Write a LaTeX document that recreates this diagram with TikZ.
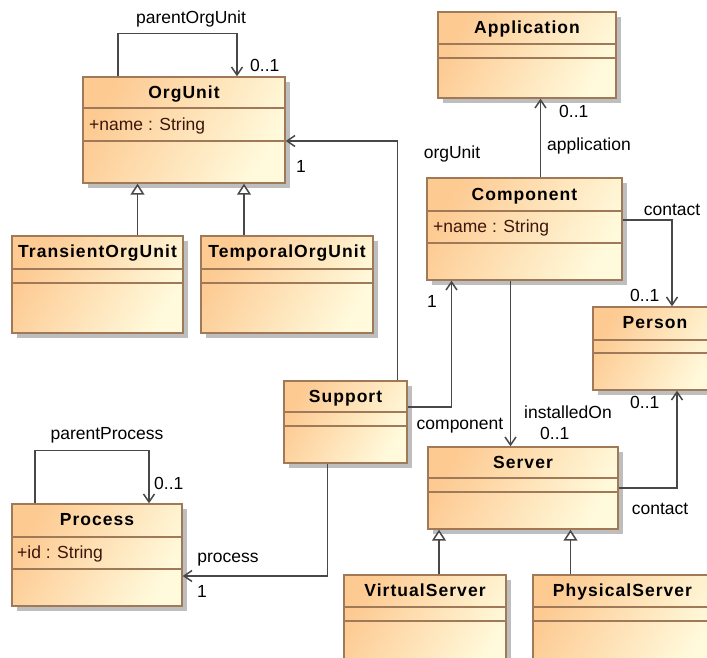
\documentclass[tikz,border=0pt]{standalone}
\usepackage{fontspec}
\setmainfont{Liberation Sans}
\newfontfamily\clsfont[LetterSpace=6]{Liberation Sans}
\usepackage{tikz}
\usetikzlibrary{arrows.meta,shadows}
\definecolor{clsA}{RGB}{253,202,146}
\definecolor{clsB}{RGB}{255,250,220}
\definecolor{clsedge}{RGB}{160,122,88}
\definecolor{shdw}{RGB}{190,190,190}
\definecolor{linegray}{RGB}{72,72,72}
\definecolor{attrtext}{RGB}{60,22,10}

\begin{document}
\begin{tikzpicture}[
    x=1pt, y=-1pt,
    every node/.style={font=\fontsize{17.5}{20}\selectfont, inner sep=0pt},
    cls/.style={draw=clsedge, line width=1.4pt, top color=clsA, bottom color=clsB,
        shading angle=60,
        drop shadow={shadow xshift=5pt, shadow yshift=-5pt, fill=shdw, opacity=1}},
    sep/.style={draw=clsedge, line width=1.4pt},
    title/.style={anchor=base, font=\clsfont\bfseries\fontsize{17.5}{20}\selectfont},
    attr/.style={anchor=base west, text=attrtext},
    lbl/.style={anchor=base},
    mult/.style={anchor=base west},
    assoc/.style={draw=linegray, line width=1.5pt, -{Straight Barb[length=8pt,width=11pt]}},
    gen/.style={draw=linegray, line width=1.5pt, -{Triangle[length=11pt,width=14pt,fill=white]}}
]
\useasboundingbox (0,0) rectangle (707,657);

% Classes
\node[cls, minimum width=178, minimum height=86] (application) at (527,55) {};
\draw[sep] (438,44) -- (616,44) (438,58) -- (616,58);
\node[title] (application-t) at (527,33) {Application};

\node[cls, minimum width=202, minimum height=106] (orgunit) at (184,130) {};
\draw[sep] (83,108) -- (285,108) (83,141) -- (285,141);
\node[title] (orgunit-t) at (184,98) {OrgUnit};
\node[attr] (orgunit-a) at (89,130) {+name : String};

\node[cls, minimum width=195, minimum height=102] (component) at (524.5,229) {};
\draw[sep] (427,211) -- (622,211) (427,243) -- (622,243);
\node[title] (component-t) at (524.5,200) {Component};
\node[attr] (component-a) at (433,232) {+name : String};

\node[cls, minimum width=171, minimum height=97] (transient) at (97.5,284.5) {};
\draw[sep] (12,269) -- (183,269) (12,283) -- (183,283);
\node[title] (transient-t) at (97.5,257) {TransientOrgUnit};

\node[cls, minimum width=172, minimum height=97] (temporal) at (287,284.5) {};
\draw[sep] (201,269) -- (373,269) (201,283) -- (373,283);
\node[title] (temporal-t) at (287,257) {TemporalOrgUnit};

\node[cls, minimum width=124, minimum height=83] (person) at (655,348.5) {};
\draw[sep] (593,340) -- (717,340) (593,353) -- (717,353);
\node[title] (person-t) at (655,328) {Person};

\node[cls, minimum width=123, minimum height=82] (support) at (345.5,422) {};
\draw[sep] (284,412) -- (407,412) (284,426) -- (407,426);
\node[title] (support-t) at (345.5,402) {Support};

\node[cls, minimum width=190, minimum height=82] (server) at (523,488) {};
\draw[sep] (428,478) -- (618,478) (428,492) -- (618,492);
\node[title] (server-t) at (523,468) {Server};

\node[cls, minimum width=170, minimum height=102] (process) at (97,555) {};
\draw[sep] (12,537) -- (182,537) (12,569) -- (182,569);
\node[title] (process-t) at (97,525) {Process};
\node[attr] (process-a) at (17,558) {+id : String};

\node[cls, minimum width=162, minimum height=100] (virtual) at (425,625) {};
\draw[sep] (344,607) -- (506,607) (344,621) -- (506,621);
\node[title] (virtual-t) at (425,596) {VirtualServer};

\node[cls, minimum width=179, minimum height=100] (physical) at (622.5,625) {};
\draw[sep] (533,607) -- (712,607) (533,621) -- (712,621);
\node[title] (physical-t) at (622.5,596) {PhysicalServer};

% Generalizations
\draw[gen] ([xshift=40pt]transient.north) -- ([xshift=40pt]transient.north |- orgunit.south);
\draw[gen] ([xshift=-43pt]temporal.north) -- ([xshift=-43pt]temporal.north |- orgunit.south);
\draw[gen] ([xshift=14pt]virtual.north) -- ([xshift=14pt]virtual.north |- server.south);
\draw[gen] ([xshift=-52pt]physical.north) -- ([xshift=-52pt]physical.north |- server.south);

% Associations
\draw[assoc] ([xshift=-66pt]orgunit.north) -- ++(0,-43) -| ([xshift=53pt]orgunit.north);
\draw[assoc] ([xshift=52pt]support.north) |- ([yshift=-11pt]orgunit.east);
\draw[assoc] ([xshift=16pt]component.north) -- ([xshift=16pt]component.north |- application.south);
\draw[assoc] ([yshift=9pt]component.east) -| ([xshift=17pt]person.north);
\draw[assoc] ([yshift=15pt]support.east) -| ([xshift=-73pt]component.south);
\draw[assoc] ([xshift=-14pt]component.south) -- ([xshift=-14pt]component.south |- server.north);
\draw[assoc] (server.east) -| ([xshift=22pt]person.south);
\draw[assoc] ([xshift=-18pt]support.south) |- ([yshift=-21pt]process.east);
\draw[assoc] ([xshift=-62pt]process.north) -- ++(0,-53) -| ([xshift=52pt]process.north);

% Role names and multiplicities
\node[lbl] (l-parentorg) at (191,23) {parentOrgUnit};
\node[mult] (m-parentorg) at (250,71) {0..1};
\node[lbl] (m-orgunit) at (301,172) {1};
\node[lbl] (l-orgunit) at (452,158) {orgUnit};
\node[mult] (m-app) at (559,117) {0..1};
\node[lbl] (l-app) at (589,150) {application};
\node[lbl] (l-contact1) at (672,215) {contact};
\node[mult] (m-contact1) at (630,301) {0..1};
\node[mult] (m-contact2) at (630,408) {0..1};
\node[lbl] (m-comp) at (432,307) {1};
\node[lbl] (l-installed) at (568,418) {installedOn};
\node[mult] (m-installed) at (540,439) {0..1};
\node[lbl] (l-comp) at (460,429) {component};
\node[lbl] (l-contact2) at (660,514) {contact};
\node[lbl] (l-parentproc) at (107,439) {parentProcess};
\node[mult] (m-parentproc) at (154,489) {0..1};
\node[lbl] (l-proc) at (228,562) {process};
\node[lbl] (m-proc) at (202,597) {1};

\end{tikzpicture}
\end{document}
